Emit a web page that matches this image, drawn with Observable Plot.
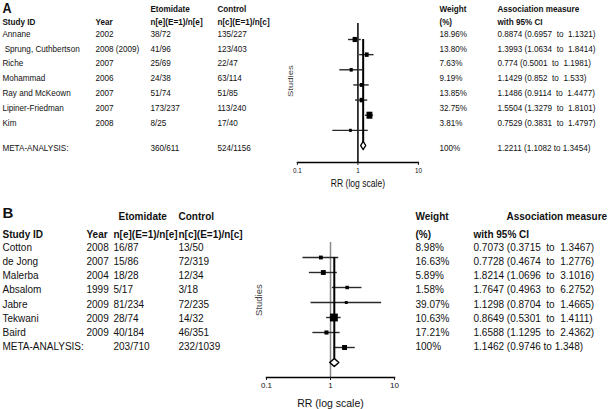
<!DOCTYPE html>
<html><head><meta charset="utf-8">
<script src="https://cdn.jsdelivr.net/npm/d3@7"></script>
<script src="https://cdn.jsdelivr.net/npm/@observablehq/plot@0.6"></script>
<style>
body{margin:0;background:#fff;}
#chart{width:609px;height:409px;overflow:hidden;background:#fff}
#chart svg{display:block}
#chart text{white-space:pre}
</style></head><body><div id="chart"></div>
<script>
// ---------- Panel A data ----------
const studiesA = ["Annane", " Sprung, Cuthbertson", "Riche", "Mohammad", "Ray and McKeown", "Lipiner-Friedman", "Kim"];
const yearsA = ["2002", "2008 (2009)", "2007", "2006", "2007", "2007", "2008"];
const etoA = ["38/72", "41/96", "25/69", "24/38", "51/74", "173/237", "8/25"];
const ctrlA = ["135/227", "123/403", "22/47", "63/114", "51/85", "113/240", "17/40"];
const weightA = [18.96, 13.80, 7.63, 9.19, 13.85, 32.75, 3.81];
const rrA = [0.8874, 1.3993, 0.774, 1.1429, 1.1486, 1.5504, 0.7529];
const loA = [0.6957, 1.0634, 0.5001, 0.852, 0.9114, 1.3279, 0.3831];
const hiA = [1.1321, 1.8414, 1.1981, 1.533, 1.4477, 1.8101, 1.4797];
const metaA = {eto: "360/611", ctrl: "524/1156", rr: 1.2211, lo: 1.1082, hi: 1.3454};

// ---------- Panel B data ----------
const studiesB = ["Cotton", "de Jong", "Malerba", "Absalom", "Jabre", "Tekwani", "Baird"];
const yearsB = ["2008", "2007", "2004", "1999", "2009", "2009", "2009"];
const etoB = ["16/87", "15/86", "18/28", "5/17", "81/234", "28/74", "40/184"];
const ctrlB = ["13/50", "72/319", "12/34", "3/18", "72/235", "14/32", "46/351"];
const weightB = [8.98, 16.63, 5.89, 1.58, 39.07, 10.63, 17.21];
const rrB = [0.7073, 0.7728, 1.8214, 1.7647, 1.1298, 0.8649, 1.6588];
const loB = [0.3715, 0.4674, 1.0696, 0.4963, 0.8704, 0.5301, 1.1295];
const hiB = [1.3467, 1.2776, 3.1016, 6.2752, 1.4665, 1.4111, 2.4362];
const metaB = {eto: "203/710", ctrl: "232/1039", rr: 1.1462, lo: 0.9746, hi: 1.348};

const xTicks = [0.1, 1, 10];

const REG = '"Liberation Sans", Arial, sans-serif';
const fontA = {family: REG, size: 9.7, tick: 7.5, rr: 10.2};
const fontB = {family: REG, size: 10, tick: 8, rr: 10.5};

function panel(P) {
  const sx = P.sx;               // horizontal squeeze of the panel (reference A is condensed)
  const W = 609 / sx;
  const X = v => v / sx;
  const n = P.studies.length;
  const y0 = P.yRange[0], k = (P.yRange[1] - P.yRange[0]) / n;
  const idx = px => (px - y0) / k;
  const rows = P.studies.map((s, i) => ({
    study: s, year: P.years[i], eto: P.eto[i], ctrl: P.ctrl[i],
    weight: P.weight[i], rr: P.rr[i], lo: P.lo[i], hi: P.hi[i], row: i,
    trow: idx(P.tableTop + i * P.tableStep),
    wtxt: P.weight[i].toFixed(2) + "%",
    atxt: `${P.rr[i]} (${P.lo[i]}  to  ${P.hi[i]})`
  }));
  const meta = {...P.meta, study: "META-ANALYSIS:", wtxt: "100%", row: n, trow: idx(P.metaY),
    atxt: `${P.meta.rr} (${P.meta.lo} to ${P.meta.hi})`};
  const L = X(P.xLeft);
  const F = P.font;
  const txt = {fontFamily: F.family, fontSize: F.size, fill: "#111", textAnchor: "start", lineAnchor: "middle", frameAnchor: "left"};
  const marks = [];
  P.cols.forEach(c => {
    marks.push(Plot.text(rows, {...txt, y: "trow", text: c.field, dx: X(c.x) - L}));
    if (meta[c.field] !== undefined) marks.push(Plot.text([meta], {...txt, y: "trow", text: c.field, dx: X(c.x) - L}));
    if (c.h1) marks.push(Plot.text([{t: c.h1, y: idx(P.h1Y)}], {...txt, y: "y", text: "t", dx: X(c.h1x ?? c.x) - L, fontWeight: "bold"}));
    if (c.h2) marks.push(Plot.text([{t: c.h2, y: idx(P.h2Y)}], {...txt, y: "y", text: "t", dx: X(c.x) - L, fontWeight: "bold"}));
  });
  marks.push(Plot.text([{t: P.label, y: idx(P.labelY)}], {...txt, y: "y", text: "t", dx: X(2) - L, fontWeight: "bold", fontSize: 15, fontFamily: REG}));
  const dia = [
    {x: meta.lo, y: n}, {x: meta.rr, y: n - 0.27}, {x: meta.hi, y: n}, {x: meta.rr, y: n + 0.27}, {x: meta.lo, y: n}
  ];
  marks.push(
    Plot.ruleX([1], {stroke: P.refColor, strokeWidth: 1.5 / sx}),
    Plot.ruleY(rows, {y: "row", x1: "lo", x2: "hi", stroke: "#2a2a2a", strokeWidth: 1.4}),
    Plot.ruleX([meta], {x: "rr", y1: 0, y2: n, stroke: "#000", strokeWidth: 2 / sx}),
    Plot.dot(rows, {x: "rr", y: "row", r: "weight", symbol: "square", fill: "#000"}),
    Plot.line(dia, {x: "x", y: "y", fill: "#fff", stroke: "#000", strokeWidth: 1.5}),
    Plot.frame({anchor: "bottom", stroke: "#000", strokeWidth: 1.5}),
    Plot.axisX({ticks: xTicks, tickFormat: d => String(d), tickSize: 3, tickPadding: 2, label: null, fontSize: F.tick, fontFamily: F.family}),
    Plot.text(["RR (log scale)"], {frameAnchor: "bottom", dy: P.rrDy, lineAnchor: "middle", fontSize: F.rr, fontFamily: F.family, fill: "#111"}),
    Plot.text(["Studies"], {frameAnchor: "left", dx: P.studiesDx / sx, dy: P.studiesDy, rotate: -90, fontSize: 9.5, fill: "#444", fontFamily: REG})
  );
  const svg = Plot.plot({
    width: W, height: P.h,
    marginTop: P.frameTop, marginBottom: P.h - P.frameBottom,
    marginLeft: L, marginRight: W - X(P.xRight),
    x: {type: "log", domain: [0.1, 10]},
    y: {domain: [0, n], range: P.yRange, axis: null},
    r: {type: "linear", domain: [0, 40], range: [1.5, 4.5]},
    style: {fontFamily: F.family, fontSize: F.size + "px", overflow: "visible", background: "#fff", color: "#111"},
    marks
  });
  svg.style.maxWidth = "none";
  svg.style.width = W + "px";
  svg.style.height = P.h + "px";
  if (sx !== 1) {
    svg.style.transformOrigin = "0 0";
    svg.style.transform = `scaleX(${sx})`;
  }
  return svg;
}

const A = panel({
  label: "A", studies: studiesA, years: yearsA, eto: etoA, ctrl: ctrlA, weight: weightA, rr: rrA, lo: loA, hi: hiA, meta: metaA,
  sx: 0.84,
  h: 205, frameTop: 23, frameBottom: 162, xLeft: 297, xRight: 418, yRange: [39, 145],
  tableTop: 33.2, tableStep: 14.8, metaY: 147, h1Y: 8.5, h2Y: 21.6, labelY: 7.5, refColor: "#000",
  rrDy: 21, studiesDx: -7, studiesDy: 4, font: fontA,
  cols: [
    {field: "study", x: 2, h2: "Study ID"},
    {field: "year", x: 95, h2: "Year"},
    {field: "eto", x: 150, h1: "Etomidate", h2: "n[e](E=1)/n[e]"},
    {field: "ctrl", x: 217, h1: "Control", h2: "n[c](E=1)/n[c]"},
    {field: "wtxt", x: 439, h1: "Weight", h2: "(%)"},
    {field: "atxt", x: 497, h1: "Association measure", h2: "with 95% CI"}
  ]
});
const B = panel({
  label: "B", studies: studiesB, years: yearsB, eto: etoB, ctrl: ctrlB, weight: weightB, rr: rrB, lo: loB, hi: hiB, meta: metaB,
  sx: 1,
  h: 204, frameTop: 37, frameBottom: 172, xLeft: 266, xRight: 394, yRange: [52, 157],
  tableTop: 42, tableStep: 14.2, metaY: 141, h1Y: 11, h2Y: 29, labelY: 8, refColor: "#888",
  rrDy: 26, studiesDx: -8, studiesDy: 6, font: fontB,
  cols: [
    {field: "study", x: 2, h2: "Study ID"},
    {field: "year", x: 86, h2: "Year"},
    {field: "eto", x: 113, h1: "Etomidate", h1x: 118, h2: "n[e](E=1)/n[e]"},
    {field: "ctrl", x: 178, h1: "Control", h2: "n[c](E=1)/n[c]"},
    {field: "wtxt", x: 415, h1: "Weight", h2: "(%)"},
    {field: "atxt", x: 473, h1: "Association measure", h1x: 506, h2: "with 95% CI"}
  ]
});
const root = document.getElementById("chart");
root.append(A, B);
</script></body></html>
